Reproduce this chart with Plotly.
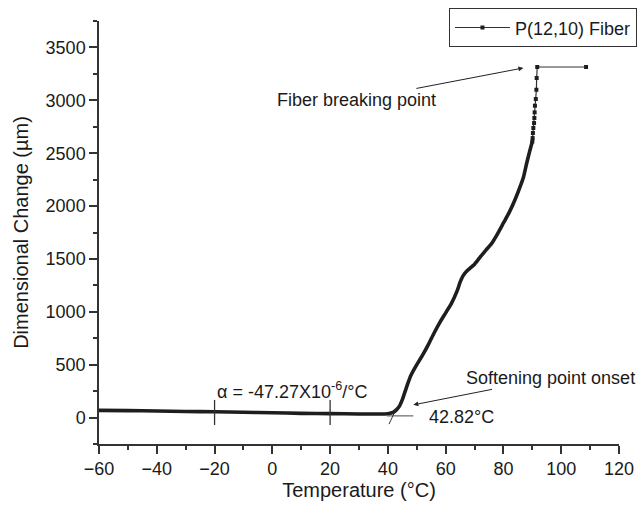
import plotly.graph_objects as go

# Dense part of the measured curve (markers merge into a thick line)
temp_main = [-60, -50, -40, -30, -20, -10, 0, 10, 20, 30, 36, 40, 42, 43, 44, 45, 46, 47,
             48, 50, 52, 54, 56, 58, 60, 62, 64, 65, 66, 67.5, 70, 72, 74, 76, 78, 80,
             82, 84, 86, 87, 88, 89, 89.6, 90.0]
dim_main = [68, 66, 62, 58, 55, 50, 45, 40, 37, 34, 33, 36, 52, 75, 108, 170, 250, 330,
            400, 500, 590, 690, 800, 900, 990, 1080, 1200, 1280, 1340, 1390, 1450, 1520,
            1585, 1650, 1740, 1840, 1940, 2060, 2200, 2280, 2400, 2510, 2570, 2611]

# Sparse part near the breaking point (individual markers visible)
temp_top = [90.0, 90.1, 90.2, 90.35, 90.6, 90.7, 90.8, 90.9, 91.2, 91.4, 91.5, 91.7, 108.6]
dim_top = [2611, 2643, 2691, 2738, 2785, 2833, 2886, 2949, 3012, 3100, 3211, 3315, 3315]

x_ticks = [-60, -40, -20, 0, 20, 40, 60, 80, 100, 120]
y_ticks = [0, 500, 1000, 1500, 2000, 2500, 3000, 3500]

FONT = "Liberation Sans, Arial, sans-serif"
INK = "#1a1a1a"

fig = go.Figure()
fig.add_trace(go.Scatter(x=temp_main, y=dim_main, mode="lines",
                         line=dict(color="#1e1e1e", width=3.6, shape="spline", smoothing=0.5),
                         showlegend=False, hoverinfo="skip"))
fig.add_trace(go.Scatter(x=temp_top, y=dim_top, mode="lines+markers", name="P(12,10) Fiber",
                         line=dict(color="#333333", width=1.2),
                         marker=dict(symbol="square", size=4, color="#1e1e1e")))

# tangent / range marks
shapes = [
    dict(type="line", x0=-20, x1=-20, y0=-70, y1=167, line=dict(color="#333", width=1.3)),
    dict(type="line", x0=20, x1=20, y0=-70, y1=167, line=dict(color="#333", width=1.3)),
    dict(type="line", x0=39.6, x1=48.8, y0=16, y1=16, line=dict(color="#666", width=1.2)),
    dict(type="line", x0=40.4, x1=43.0, y0=-62, y1=90, line=dict(color="#333", width=1)),
]

fig.update_layout(
    width=642, height=507,
    margin=dict(l=99, r=23, t=21, b=63, autoexpand=False),
    paper_bgcolor="white", plot_bgcolor="white",
    font=dict(family=FONT, size=18, color=INK),
    shapes=shapes,
    showlegend=True,
    legend=dict(x=0.673, y=1.03, xanchor="left", yanchor="top",
                bordercolor="#333", borderwidth=1, bgcolor="white",
                font=dict(size=18, family=FONT, color=INK),
                itemwidth=55, tracegroupgap=0),
)

# annotations with arrows attached to the texts
fig.add_annotation(x=86.9, y=3306, ax=-167, ay=32, text="Fiber breaking point",
                   showarrow=True, arrowhead=2, arrowsize=1, arrowwidth=1, arrowcolor="#222",
                   font=dict(size=18))
fig.add_annotation(x=48.8, y=120, ax=137, ay=-27, text="Softening point onset",
                   showarrow=True, arrowhead=2, arrowsize=1, arrowwidth=1, arrowcolor="#222",
                   font=dict(size=18))
fig.add_annotation(x=53.4, y=10, text="42.82°C", showarrow=False,
                   xanchor="left", font=dict(size=18))
fig.add_annotation(x=-19.8, y=260, text="α = -47.27X10<sup>-6</sup>/°C", showarrow=False,
                   xanchor="left", font=dict(size=18))

axis_common = dict(showline=True, linecolor="#333", linewidth=1.5, ticks="outside",
                   tickcolor="#333", tickwidth=1.5, ticklen=8, showgrid=False,
                   zeroline=False, mirror=False,
                   tickfont=dict(size=18, family=FONT, color=INK))

fig.update_xaxes(range=[-60, 120], tickvals=x_ticks,
                 minor=dict(dtick=10, ticks="outside", ticklen=4, tickcolor="#333", tickwidth=1.5),
                 title=dict(text="Temperature (°C)", font=dict(size=20, family=FONT, color=INK),
                            standoff=3),
                 **axis_common)
fig.update_yaxes(range=[-250, 3750], tickvals=y_ticks,
                 minor=dict(dtick=250, ticks="outside", ticklen=4, tickcolor="#333", tickwidth=1.5),
                 title=dict(text="Dimensional Change (µm)", font=dict(size=20, family=FONT, color=INK),
                            standoff=12),
                 **axis_common)

fig.write_html("out.html")
